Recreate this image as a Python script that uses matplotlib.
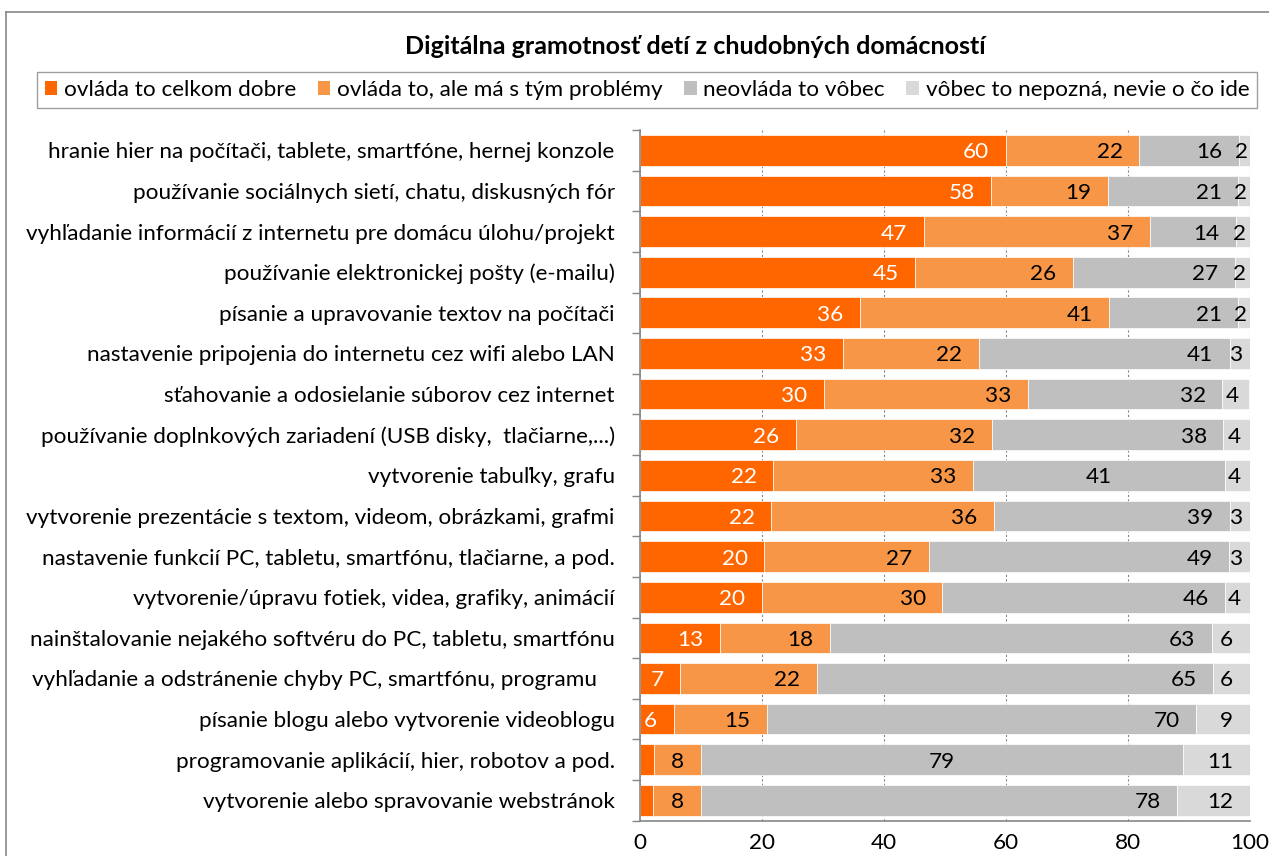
import numpy as np
import matplotlib
matplotlib.use("Agg")
import matplotlib.pyplot as plt
from matplotlib.lines import Line2D
from matplotlib.patches import Patch

plt.rcParams['font.family'] = ['Lato', 'DejaVu Sans']

title = "Digitálna gramotnosť detí z chudobných domácností"

categories = [
    "hranie hier na počítači, tablete, smartfóne, hernej konzole",
    "používanie sociálnych sietí, chatu, diskusných fór",
    "vyhľadanie informácií z internetu pre domácu úlohu/projekt",
    "používanie elektronickej pošty (e-mailu)",
    "písanie a upravovanie textov na počítači",
    "nastavenie pripojenia do internetu cez wifi alebo LAN",
    "sťahovanie a odosielanie súborov cez internet",
    "používanie doplnkových zariadení (USB disky,  tlačiarne,...)",
    "vytvorenie tabuľky, grafu",
    "vytvorenie prezentácie s textom, videom, obrázkami, grafmi",
    "nastavenie funkcií PC, tabletu, smartfónu, tlačiarne, a pod.",
    "vytvorenie/úpravu fotiek, videa, grafiky, animácií",
    "nainštalovanie nejakého softvéru do PC, tabletu, smartfónu",
    "vyhľadanie a odstránenie chyby PC, smartfónu, programu   ",
    "písanie blogu alebo vytvorenie videoblogu",
    "programovanie aplikácií, hier, robotov a pod.",
    "vytvorenie alebo spravovanie webstránok",
]

series_names = [
    "ovláda to celkom dobre",
    "ovláda to, ale má s tým problémy",
    "neovláda to vôbec",
    "vôbec to nepozná, nevie o čo ide",
]

good = [60.0, 57.6, 46.6, 45.2, 36.1, 33.3, 30.2, 25.6, 21.9, 21.6, 20.4, 20.0, 13.2, 6.6, 5.6, 2.3, 2.2]
problems = [21.9, 19.2, 37.0, 25.8, 40.9, 22.3, 33.4, 32.1, 32.7, 36.4, 27.0, 29.6, 18.0, 22.4, 15.3, 7.7, 7.8]
cannot = [16.3, 21.3, 14.2, 26.6, 21.1, 41.1, 31.9, 38.0, 41.4, 38.7, 49.2, 46.4, 62.6, 65.0, 70.3, 79.1, 78.1]
unknown = [1.8, 1.9, 2.2, 2.4, 1.9, 3.3, 4.4, 4.4, 4.0, 3.3, 3.4, 4.0, 6.2, 6.0, 8.8, 10.9, 11.9]

xticks = [0, 20, 40, 60, 80, 100]

colors = ["#FF6600", "#F79646", "#BFBFBF", "#D9D9D9"]
label_colors = ["white", "black", "black", "black"]
# labels that were centred by hand in the original (row, series)
centered = {(8, 2), (15, 2)}

W, H = 1269, 856
fig = plt.figure(figsize=(W / 100, H / 100), dpi=100)
ax = fig.add_axes([639.7 / W, 1 - 820.7 / H, 610 / W, 690.7 / H])

n = len(categories)
y = np.arange(n)
left = np.zeros(n)
data = [good, problems, cannot, unknown]
px_per_unit = 6.1
pad_units = 16.5 / px_per_unit
fs = 16.2

for si, (vals, col) in enumerate(zip(data, colors)):
    vals = np.array(vals)
    ax.barh(y, vals, left=left, height=0.755, color=col, edgecolor="white",
            linewidth=0.5, zorder=2)
    for i in range(n):
        v = vals[i]
        start, end = left[i], left[i] + v
        txt = str(int(round(v)))
        if (i, si) in centered:
            xpos, ha = (start + end) / 2, "center"
        elif si == 3 and v < 5:
            xpos, ha = (start + end) / 2 - 0.5, "center"
        else:
            xpos, ha = end - pad_units, "right"
        ax.text(xpos, i, txt, ha=ha, va="center_baseline", fontsize=fs,
                color=label_colors[si], zorder=3, clip_on=True)
    left = left + vals

ax.set_xlim(0, 100)
ax.set_ylim(n - 0.5, -0.5)
ax.set_xticks(xticks)
ax.set_xticklabels([str(t) for t in xticks], fontsize=fs)
ax.tick_params(axis="x", length=0, pad=9)
ax.set_yticks(y)
ax.set_yticklabels(categories, fontsize=fs)
ax.set_yticks(np.arange(-0.5, n, 1.0), minor=True)
ax.tick_params(axis="y", which="major", length=0, pad=18)
ax.tick_params(axis="y", which="minor", length=6, width=1, color="#868686")

ax.set_axisbelow(True)
ax.xaxis.grid(True, linestyle=(0, (2, 2)), color="#868686", linewidth=0.8)
for s in ["top", "right"]:
    ax.spines[s].set_visible(False)
for s in ["left", "bottom"]:
    ax.spines[s].set_color("#868686")
    ax.spines[s].set_linewidth(1.2)

fig.text(695 / W, 1 - 46 / H, title, ha="center", va="center",
         fontsize=18, fontweight="bold")

handles = [Patch(facecolor=c, edgecolor="none") for c in colors]
leg = fig.legend(handles, series_names, loc="lower left",
                 bbox_to_anchor=(37 / W, 1 - 108 / H, 1220 / W, 40 / H),
                 ncol=4, mode="expand", fontsize=fs, frameon=True,
                 fancybox=False, borderaxespad=0, handlelength=0.55,
                 handleheight=0.55, handletextpad=0.3, borderpad=0.35,
                 columnspacing=0.8)
leg.get_frame().set_edgecolor("#868686")
leg.get_frame().set_linewidth(1.0)

# outer chart border (left and top sides visible)
fig.add_artist(Line2D([6 / W, 6 / W], [0, 1 - 12 / H], transform=fig.transFigure,
                      color="#888888", lw=1.2))
fig.add_artist(Line2D([6 / W, 1], [1 - 12 / H, 1 - 12 / H], transform=fig.transFigure,
                      color="#888888", lw=1.2))

fig.savefig("out.png", dpi=100)
